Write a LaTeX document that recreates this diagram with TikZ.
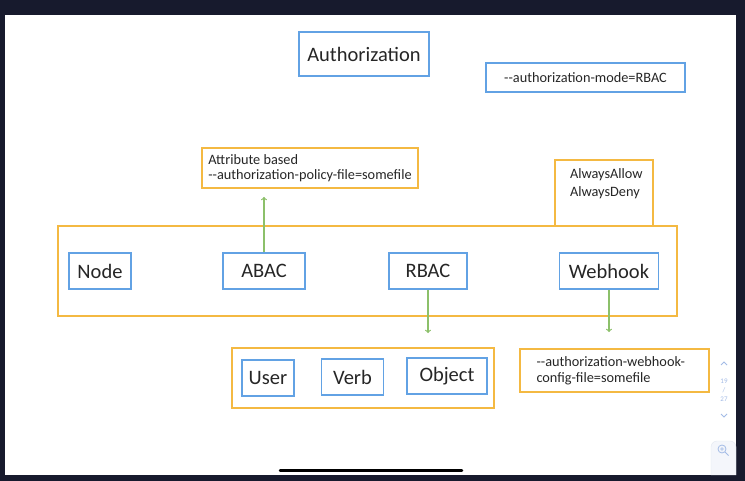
\documentclass[tikz,border=0pt]{standalone}
\usepackage{fontspec}
\setmainfont{Carlito}
\usepackage{tikz}

\definecolor{boxblue}{HTML}{62A2E4}
\definecolor{boxorange}{HTML}{F4B942}
\definecolor{arrowgreen}{HTML}{8CC06A}
\definecolor{slidebg}{HTML}{171A2D}
\definecolor{inkgray}{HTML}{262626}
\definecolor{pagelabel}{HTML}{A3BBE6}
\definecolor{panelfill}{HTML}{F4F6FB}
\definecolor{paneledge}{HTML}{E3E8F1}

\begin{document}
\begin{tikzpicture}[x=1pt,y=-1pt]
    \tikzstyle{bluebox}=[rectangle,draw=boxblue,line width=1.8pt,minimum height=36pt,inner sep=0pt,text=inkgray,font=\fontsize{20.5}{24}\selectfont]
    \tikzstyle{orangebox}=[rectangle,draw=boxorange,line width=1.8pt,inner sep=0pt,text=inkgray,font=\fontsize{14.3}{16}\selectfont]
    \tikzstyle{link}=[draw=arrowgreen,line width=1.2pt,->]

    \useasboundingbox (0,0) rectangle (745,481);
    \fill[slidebg] (0,0) rectangle (745,481);
    \fill[white] (5,15) rectangle (736,475);

    \node[bluebox,minimum width=130pt,minimum height=44pt] (title) at (364,54) {Authorization};
    \node[bluebox,minimum width=199pt,minimum height=29pt,line width=1.5pt,font=\fontsize{14.3}{16}\selectfont] (mode) at (585.5,77.5) {-{}-authorization-mode=RBAC};

    % modes
    \node[orangebox,minimum width=619pt,minimum height=90pt] (modes) at (367.5,271) {};
    \node[orangebox,minimum width=98pt,minimum height=66pt] (always) at (604,193) {};
    \node[orangebox,draw=none,anchor=north west,align=left,font=\fontsize{14.3}{17.5}\selectfont] (always-text) at ([xshift=15pt,yshift=-9pt]always.north west) {AlwaysAllow\\AlwaysDeny};
    \foreach \name/\x/\w in {Node/100/62, ABAC/264/82, RBAC/428/78, Webhook/609/99}
            \node[bluebox,minimum width=\w pt] (M-\name) at (\x,271) {\name};

    \node[orangebox,minimum height=40pt,minimum width=216pt,align=left,font=\fontsize{14.3}{15}\selectfont] (abacfile) at (310,168) {Attribute based\\-{}-authorization-policy-file=somefile};

    % rbac
    \node[orangebox,minimum width=262pt,minimum height=60pt] (uvo) at (363,378) {};
    \foreach \name/\x/\y/\w in {User/268/378/52, Verb/352.5/377/62, Object/447/376/80}
            \node[bluebox,minimum width=\w pt] (R-\name) at (\x,\y) {\name};

    \node[orangebox,minimum height=43pt,text width=156pt,inner xsep=16.5pt,align=left] (hookfile) at (614.5,370.5) {-{}-authorization-webhook-\\config-file=somefile};

    \draw[link,shorten >=8pt] (M-ABAC.north) -- (M-ABAC.north |- abacfile.south);
    \draw[link,shorten >=14pt] (M-RBAC.south) -- (M-RBAC.south |- uvo.north);
    \draw[link,shorten >=16pt] (M-Webhook.south) -- (M-Webhook.south |- hookfile.north);

    % viewer
    \draw[black,line width=2.5pt,line cap=round] (280,470.5) -- (462,470.5);
    \node[text=pagelabel,align=center,inner sep=0pt,font=\fontsize{7}{9}\selectfont] (page) at (724,390) {19\\/\\27};
    \draw[pagelabel,line width=0.8pt] (721,365) -- (724,362) -- (727,365);
    \draw[pagelabel,line width=0.8pt] (721,414) -- (724,417) -- (727,414);
    \filldraw[fill=panelfill,draw=paneledge,rounded corners=6pt] (711,475) -- (711,441) -- (736,441) -- (736,475);
    \draw[pagelabel,line width=0.8pt] (722,449) circle (4) (725,452) -- (728.5,455.5) (720,449) -- (724,449) (722,447) -- (722,451);
\end{tikzpicture}
\end{document}
